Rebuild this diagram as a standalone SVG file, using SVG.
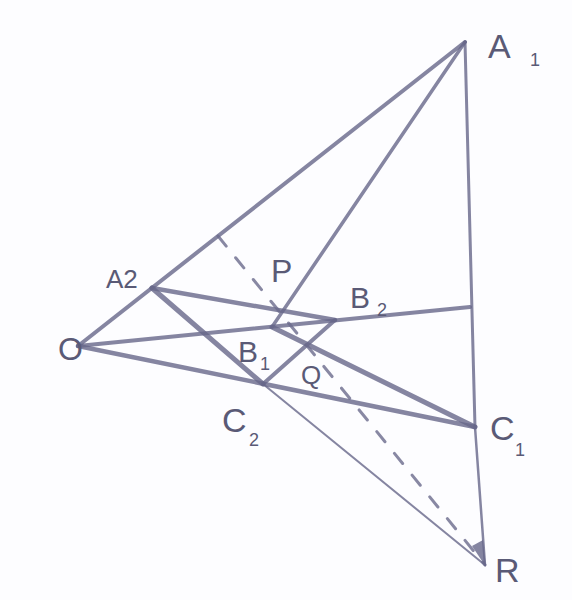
<svg xmlns="http://www.w3.org/2000/svg" width="572" height="600" viewBox="0 0 572 600">
  <style>
    .ln { stroke: #66668a; stroke-linecap: round; fill: none; opacity: 0.8; }
    .dash { stroke: #6a6a8c; stroke-width: 3; fill: none; stroke-dasharray: 13 15; stroke-linecap: round; opacity: 0.8; }
    .lbl { font-family: "Liberation Sans", Arial, sans-serif; fill: #5a5a76; }
    .sub { font-family: "Liberation Sans", Arial, sans-serif; fill: #5a5a76; font-size: 18px; }
  </style>
  <rect width="572" height="600" fill="#fdfdff"/>
  <g id="connectors">
    <line class="ln" x1="78" y1="346" x2="465" y2="42" stroke-width="4"/>
    <line class="ln" x1="465" y1="42" x2="475" y2="427" stroke-width="3"/>
    <line class="ln" x1="475" y1="427" x2="485" y2="565" stroke-width="2.5"/>
    <line class="ln" x1="465" y1="42" x2="272" y2="327" stroke-width="3.5"/>
    <line class="ln" x1="78" y1="346" x2="470" y2="307" stroke-width="4"/>
    <line class="ln" x1="78" y1="346" x2="475" y2="427" stroke-width="4.5"/>
    <line class="ln" x1="152" y1="288" x2="263" y2="384" stroke-width="5"/>
    <line class="ln" x1="263" y1="384" x2="485" y2="565" stroke-width="2"/>
    <line class="ln" x1="152" y1="288" x2="335" y2="320" stroke-width="4.5"/>
    <line class="ln" x1="335" y1="320" x2="263" y2="384" stroke-width="4"/>
    <line class="ln" x1="272" y1="327" x2="475" y2="427" stroke-width="5"/>
    <line class="dash" x1="218" y1="236" x2="485" y2="565"/>
    <polygon points="472,546 483,540 486,567" fill="#66668a" opacity="0.8"/>
  </g>
  <g id="node-O"><text class="lbl" x="58" y="360" font-size="32">O</text></g>
  <g id="node-A1"><text class="lbl" x="488" y="58" font-size="34">A</text><text class="sub" x="530" y="66">1</text></g>
  <g id="node-A2"><text class="lbl" x="106" y="288" font-size="26">A2</text></g>
  <g id="node-P"><text class="lbl" x="271" y="282" font-size="32">P</text></g>
  <g id="node-B2"><text class="lbl" x="350" y="308" font-size="30">B</text><text class="sub" x="377" y="316">2</text></g>
  <g id="node-B1"><text class="lbl" x="238" y="362" font-size="30">B</text><text class="sub" x="260" y="370">1</text></g>
  <g id="node-Q"><text class="lbl" x="301" y="384" font-size="26">Q</text></g>
  <g id="node-C2"><text class="lbl" x="222" y="432" font-size="34">C</text><text class="sub" x="249" y="446">2</text></g>
  <g id="node-C1"><text class="lbl" x="490" y="440" font-size="34">C</text><text class="sub" x="515" y="456">1</text></g>
  <g id="node-R"><text class="lbl" x="495" y="582" font-size="34">R</text></g>
</svg>
